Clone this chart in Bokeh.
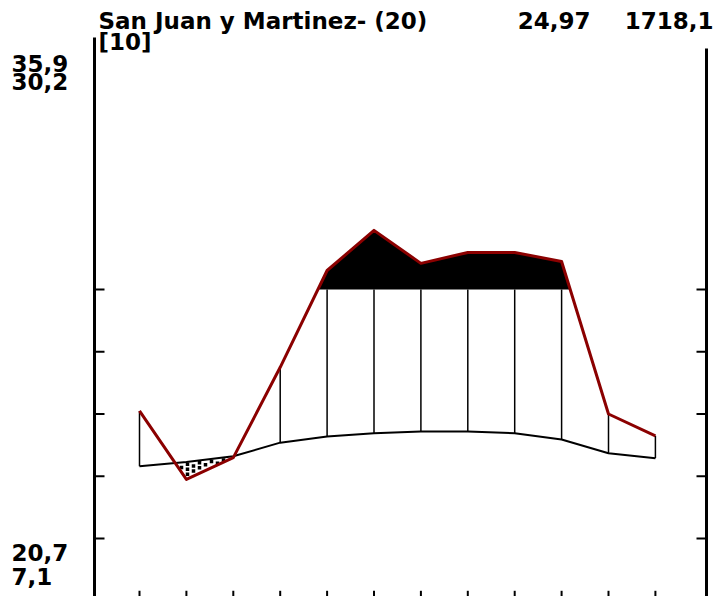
from bokeh.plotting import figure
from bokeh.models import Range1d, Label
from bokeh.embed import file_html
from bokeh.resources import INLINE

# Station summary
station = "San Juan y Martinez- (20)"
years_temp = "[10]"
annual_temp = "24,97"
annual_prec = "1718,1"
side_labels_top = ["35,9", "30,2"]
side_labels_bottom = ["20,7", "7,1"]

# Monthly means (Jan..Dec)
months = list(range(1, 13))
temp_c = [21.6, 22.3, 23.2, 25.4, 26.4, 26.9, 27.2, 27.2, 26.9, 25.9, 23.7, 22.9]
prec_mm = [61, 39, 46, 75, 161, 290, 184, 219, 219, 190, 60, 53]
temp_ticks = [10, 20, 30, 40, 50]

# ---- layout: canvas pixels <-> data units ----
W, H = 717, 596
X_LEFT_PX, X_STEP_PX = 139.0, 46.9      # pixel of January, pixels per month
Y_ZERO_PX, Y_UNIT_PX = 600.25, 6.225    # pixel of 0 degC, pixels per degC
TEXT_SHIFT = 8                          # baseline correction for svg text


def dx(px):
    return 1 + (px - X_LEFT_PX) / X_STEP_PX


def dy(py):
    return (Y_ZERO_PX - py) / Y_UNIT_PX


def prec_scale(p):
    # 10 degC = 20 mm; above 100 mm the scale is reduced to 1/10
    return p / 2.0 if p <= 100 else 50 + (p - 100) / 20.0


prec_s = [prec_scale(v) for v in prec_mm]


def interp(x, xs, ys):
    for i in range(len(xs) - 1):
        if xs[i] <= x <= xs[i + 1]:
            t = (x - xs[i]) / (xs[i + 1] - xs[i])
            return ys[i] + t * (ys[i + 1] - ys[i])
    return None


def regions(xs, upper, lower):
    """Polygons where upper > lower, with exact crossing points."""
    polys = []
    cur_top, cur_bot, cur_x = [], [], []
    n = len(xs)
    for i in range(n):
        d = upper[i] - lower[i]
        if d > 0:
            cur_x.append(xs[i]); cur_top.append(upper[i]); cur_bot.append(lower[i])
        if i < n - 1:
            d2 = upper[i + 1] - lower[i + 1]
            if (d > 0) != (d2 > 0) and d != d2:
                t = d / (d - d2)
                xc = xs[i] + t * (xs[i + 1] - xs[i])
                yc = upper[i] + t * (upper[i + 1] - upper[i])
                cur_x.append(xc); cur_top.append(yc); cur_bot.append(yc)
                if d > 0:
                    polys.append((cur_x, cur_top, cur_bot))
                    cur_top, cur_bot, cur_x = [], [], []
    if cur_x:
        polys.append((cur_x, cur_top, cur_bot))
    out_x, out_y = [], []
    for px_, pt, pb in polys:
        out_x.append(px_ + px_[::-1])
        out_y.append(pt + pb[::-1])
    return out_x, out_y


p = figure(width=W, height=H, x_range=Range1d(dx(0), dx(W)), y_range=Range1d(dy(H), dy(0)),
           x_axis_type=None, y_axis_type=None, min_border=0, outline_line_color=None,
           toolbar_location=None, output_backend="svg")
p.grid.visible = False
p.background_fill_color = "white"

# black band: precipitation above 100 mm
cap = [50.0] * 12
bx, by = regions(months, prec_s, cap)
p.patches(bx, by, fill_color="black", line_color=None)

# dry period: dot pattern between the temperature and precipitation curves
step_x, step_y = 6 / X_STEP_PX, 5 / Y_UNIT_PX
gx, gy = [], []
x = months[0]
col = 0
while x <= months[-1]:
    top = interp(x, months, temp_c)
    bot = interp(x, months, prec_s)
    if top is not None and top - bot > 0.35:
        y = top - 0.4 - (step_y / 2 if col % 2 else 0)
        while y > bot + 0.25:
            gx.append(x); gy.append(y)
            y -= step_y
    x += step_x
    col += 1
p.scatter(gx, gy, marker="square", size=3.5, fill_color="black", line_color=None)

# humid period: vertical lines at each month
hx, hy0, hy1 = [], [], []
for m, t, s in zip(months, temp_c, prec_s):
    if s > t:
        hx.append(m); hy0.append(t); hy1.append(min(s, 50.0))
p.segment(hx, hy0, hx, hy1, line_color="black", line_width=1.5)

# curves
p.line(months, temp_c, line_color="black", line_width=2)
p.line(months, prec_s, line_color="#8b0000", line_width=3, line_join="round")

# axes
ax_l, ax_r = dx(94), dx(706)
p.segment([ax_l], [dy(37)], [ax_l], [dy(H + 5)], line_color="black", line_width=3)
p.segment([ax_r], [dy(48)], [ax_r], [dy(H + 5)], line_color="black", line_width=3)
tick_len = 10 / X_STEP_PX
p.segment([ax_l] * len(temp_ticks), temp_ticks, [ax_l + tick_len] * len(temp_ticks), temp_ticks,
          line_color="black", line_width=2)
p.segment([ax_r] * len(temp_ticks), temp_ticks, [ax_r - tick_len] * len(temp_ticks), temp_ticks,
          line_color="black", line_width=2)
p.segment(months, [0] * 12, months, [1.6] * 12, line_color="black", line_width=2)

# texts
font = dict(text_font="DejaVu Sans", text_font_style="bold", text_font_size="23px",
            text_color="black", text_baseline="alphabetic")


def put(txt, xpx, ypx, align="left"):
    p.add_layout(Label(x=dx(xpx), y=dy(ypx - TEXT_SHIFT), text=txt, text_align=align, **font))


put(station, 98, 28)
put(annual_temp, 590, 28, "right")
put(annual_prec, 713, 28, "right")
put(years_temp, 98, 49)
for txt, yb in zip(side_labels_top, [71, 89]):
    put(txt, 11, yb)
for txt, yb in zip(side_labels_bottom, [560, 584]):
    put(txt, 11, yb)

open("out.html", "w").write(file_html(p, INLINE))
